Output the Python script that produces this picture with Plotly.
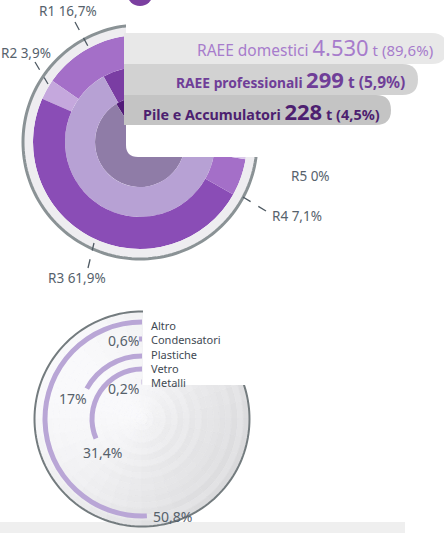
import numpy as np
import plotly.graph_objects as go

W, H = 444, 533

# ---------------- data ----------------
waste_types = ["RAEE domestici", "RAEE professionali", "Pile e Accumulatori"]
waste_tonnes = ["4.530", "299", "228"]
waste_pct = [89.6, 5.9, 4.5]
waste_pct_text = ["89,6%", "5,9%", "4,5%"]

r_codes = ["R1", "R2", "R3", "R4", "R5"]
r_pct = [16.7, 3.9, 61.9, 7.1, 0.0]
r_pct_text = ["16,7%", "3,9%", "61,9%", "7,1%", "0%"]

materials = ["Altro", "Condensatori", "Plastiche", "Vetro", "Metalli"]
material_pct = [50.8, 0.6, 17.0, 31.4, 0.2]
material_pct_text = ["50,8%", "0,6%", "17%", "31,4%", "0,2%"]

# ---------------- helpers ----------------
def fx(x):
    return x / W


def fy(y):
    return 1 - y / H


def path(points_cmds):
    out = []
    for cmd, pts in points_cmds:
        coords = " ".join(f"{fx(x):.5f},{fy(y):.5f}" for x, y in pts)
        out.append(f"{cmd}{coords}")
    return " ".join(out) + " Z"


FONT = "Noto Sans"
fig = go.Figure()

# ================= TOP CHART (polar) =================
C1 = (140, 142)
RP1 = 125
K = 2.82  # degrees per percent

# inner disc (0-45): pile wedge + rest
pile_w = waste_pct[2] * K
fig.add_trace(go.Barpolar(
    theta=[122 - pile_w / 2, 122 + (360 - pile_w) / 2],
    width=[pile_w, 360 - pile_w],
    r=[45, 45], base=[0, 0],
    marker=dict(color=["#521b78", "#8f7ca7"], line=dict(width=0)),
    subplot="polar", hoverinfo="skip"))

# middle ring (45-75): professionali wedge + rest
prof_w = waste_pct[1] * K
fig.add_trace(go.Barpolar(
    theta=[119 - prof_w / 2, 119 + (360 - prof_w) / 2],
    width=[prof_w, 360 - prof_w],
    r=[30, 30], base=[45, 45],
    marker=dict(color=["#7a3da3", "#b7a1d4"], line=dict(width=0)),
    subplot="polar", hoverinfo="skip"))

# outer ring (75-107): R1..R5 breakdown
r_colors = ["#a46fc8", "#c5a8dd", "#8a4db6", "#a46fc8", "#a46fc8"]
start = 98.0
cum = start
th, wd, cols = [], [], []
for p, c in zip(r_pct, r_colors):
    w = p * K
    if w > 0:
        th.append(cum + w / 2)
        wd.append(w)
        cols.append(c)
    cum += w
rest = 360 - (cum - start)
th.append(cum + rest / 2)
wd.append(rest)
cols.append("#dccbeb")
fig.add_trace(go.Barpolar(
    theta=th, width=wd, r=[32] * len(th), base=[75] * len(th),
    marker=dict(color=cols, line=dict(width=0)),
    subplot="polar", hoverinfo="skip"))

# light band + gray outer arc
fig.add_trace(go.Barpolar(
    theta=[180], width=[360], r=[9], base=[107],
    marker=dict(color="#eeedf0", line=dict(width=0)),
    subplot="polar", hoverinfo="skip"))
fig.add_trace(go.Scatterpolar(
    r=[117] * 181, theta=np.linspace(0, 360, 181), mode="lines",
    line=dict(color="#8a9295", width=3), subplot="polar", hoverinfo="skip"))

# ================= BOTTOM CHART (polar2) =================
C2 = (142, 419)
RP2 = 112

# shaded bowl background
edges = np.linspace(0, 107.5, 19)
angs = np.arange(5, 360, 10)
bt, bw, br, bb, bc = [], [], [], [], []
for i in range(len(edges) - 1):
    rc = (edges[i] + edges[i + 1]) / 2
    for a in angs:
        s = 0.5 * (1 + np.cos(np.radians(a + 30)))
        depth = (rc / 107.5) ** 0.6
        rip = 0.5 + 0.5 * np.cos(2 * np.pi * rc / 13)
        L = int(round(249 - 24 * s * depth - 8 * rip * s * depth))
        bt.append(a)
        bw.append(10)
        br.append(edges[i + 1] - edges[i])
        bb.append(edges[i])
        bc.append(f"rgb({L},{L},{min(255, L + 2)})")
fig.add_trace(go.Barpolar(
    theta=bt, width=bw, r=br, base=bb,
    marker=dict(color=bc, line=dict(color=bc, width=0.6)),
    subplot="polar2", hoverinfo="skip"))

fig.add_trace(go.Scatterpolar(
    r=[107.5] * 181, theta=np.linspace(0, 360, 181), mode="lines",
    line=dict(color="#737b7e", width=2), subplot="polar2", hoverinfo="skip"))

mat_radii = [97, 80, 63, 50, 37]
mw = [p * 3.6 for p in material_pct]
fig.add_trace(go.Barpolar(
    theta=[90 + w / 2 for w in mw], width=mw,
    r=[5] * len(mw), base=[rr - 2.5 for rr in mat_radii],
    marker=dict(color="#b9a6d6", line=dict(width=0)),
    subplot="polar2", hoverinfo="skip"))

# ================= shapes =================
shapes = []
# bottom light band
shapes.append(dict(type="rect", xref="paper", yref="paper", layer="below",
                   x0=fx(0), x1=fx(405), y0=fy(533), y1=fy(522),
                   fillcolor="#efefef", line=dict(width=0)))
# white cut over the top chart
shapes.append(dict(type="path", xref="paper", yref="paper", layer="above",
                   path=path([("M", [(126, -5)]), ("L", [(450, -5)]), ("L", [(450, 157)]),
                              ("L", [(138, 157)]), ("Q", [(126, 157), (126, 145)])]),
                   fillcolor="white", line=dict(width=0)))
# label rows
row_y = [(33, 64), (64, 95), (95, 125)]
row_end = [447, 418, 391]
row_fill = ["#e8e8e8", "#d2d2d2", "#c4c4c4"]
for (y0, y1), xe, fc in zip(row_y, row_end, row_fill):
    rr = (y1 - y0) / 2
    shapes.append(dict(type="path", xref="paper", yref="paper", layer="above",
                       path=path([("M", [(124, y0)]), ("L", [(xe - rr, y0)]),
                                  ("Q", [(xe, y0), (xe, y0 + rr)]),
                                  ("Q", [(xe, y1), (xe - rr, y1)]),
                                  ("L", [(124, y1)])]),
                       fillcolor=fc, line=dict(width=0)))
# icon blob at top
shapes.append(dict(type="circle", xref="paper", yref="paper", layer="above",
                   x0=fx(127), x1=fx(153), y0=fy(6), y1=fy(-20),
                   fillcolor="#7b3fa0", line=dict(width=0)))
# white cut over the bottom chart (legend area)
shapes.append(dict(type="rect", xref="paper", yref="paper", layer="above",
                   x0=fx(143), x1=fx(444), y0=fy(385), y1=fy(298),
                   fillcolor="white", line=dict(width=0)))
# leader lines for R labels
leaders = [((75, 22), (90, 50)), ((35, 62), (48, 84)), ((88, 268), (94, 243)),
           ((266, 211), (238, 194))]
for (xa, ya), (xb, yb) in leaders:
    shapes.append(dict(type="line", xref="paper", yref="paper", layer="above",
                       x0=fx(xa), y0=fy(ya), x1=fx(xb), y1=fy(yb),
                       line=dict(color="#4f5a63", width=1.3, dash="dash")))

# ================= annotations =================
ann = []
row_text_pos = [(434, 47), (406, 79), (381, 111)]
row_colors = ["#a77ccc", "#6f3e98", "#4d1f70"]
row_name_size = [15.5, 13.8, 14.3]
row_num_size = [22, 22, 22]
row_suf_size = [15, 15.5, 14.5]
for i, (name, tn, pt) in enumerate(zip(waste_types, waste_tonnes, waste_pct_text)):
    core = (f"{name} <span style='font-size:{row_num_size[i]}px'>{tn}</span>"
            f"<span style='font-size:{row_suf_size[i]}px'> t ({pt})</span>")
    txt = core if i == 0 else f"<b>{core}</b>"
    x, y = row_text_pos[i]
    ann.append(dict(x=fx(x), y=fy(y), xref="paper", yref="paper", text=txt,
                    showarrow=False, xanchor="right", yanchor="middle", borderpad=0,
                    font=dict(family=FONT, size=row_name_size[i], color=row_colors[i])))

r_label_pos = [(68, 11, "center"), (53, 53, "right"), (77, 278, "center"),
               (297, 216, "center"), (310, 176, "center")]
for code, pt, (x, y, xa) in zip(r_codes, r_pct_text, r_label_pos):
    ann.append(dict(x=fx(x), y=fy(y), xref="paper", yref="paper",
                    text=f"{code} {pt}", showarrow=False, xanchor=xa, yanchor="middle",
                    font=dict(family=FONT, size=13.5, color="#56626c")))

# material legend, one block of lines
ann.append(dict(x=fx(149), y=fy(316), xref="paper", yref="paper",
                text="<br>".join(materials), showarrow=False, xanchor="left",
                yanchor="top", align="left",
                font=dict(family=FONT, size=11, color="#3f4a53")))

mat_label_pos = [(172, 516, "center"), (141, 341, "right"), (73, 398, "center"),
                 (102, 452, "center"), (141, 388, "right")]
for pt, (x, y, xa) in zip(material_pct_text, mat_label_pos):
    ann.append(dict(x=fx(x), y=fy(y), xref="paper", yref="paper", text=pt,
                    showarrow=False, xanchor=xa, yanchor="middle",
                    font=dict(family=FONT, size=14, color="#56616b")))

polar_common = dict(bgcolor="rgba(0,0,0,0)", hole=0, barmode="overlay", bargap=0,
                    angularaxis=dict(visible=False, direction="counterclockwise",
                                     rotation=0, showgrid=False))

fig.update_layout(
    width=W, height=H, margin=dict(l=0, r=0, t=0, b=0),
    paper_bgcolor="white", plot_bgcolor="white", showlegend=False,
    polar=dict(domain=dict(x=[fx(C1[0] - RP1), fx(C1[0] + RP1)],
                           y=[fy(C1[1] + RP1), fy(C1[1] - RP1)]),
               radialaxis=dict(visible=False, range=[0, RP1], showgrid=False),
               **polar_common),
    polar2=dict(domain=dict(x=[fx(C2[0] - RP2), fx(C2[0] + RP2)],
                            y=[fy(C2[1] + RP2), fy(C2[1] - RP2)]),
                radialaxis=dict(visible=False, range=[0, RP2], showgrid=False),
                **polar_common),
    shapes=shapes, annotations=ann,
)

fig.write_html("out.html", config={"displayModeBar": False},
               post_script="document.body.style.margin='0';document.body.style.overflow='hidden';")
